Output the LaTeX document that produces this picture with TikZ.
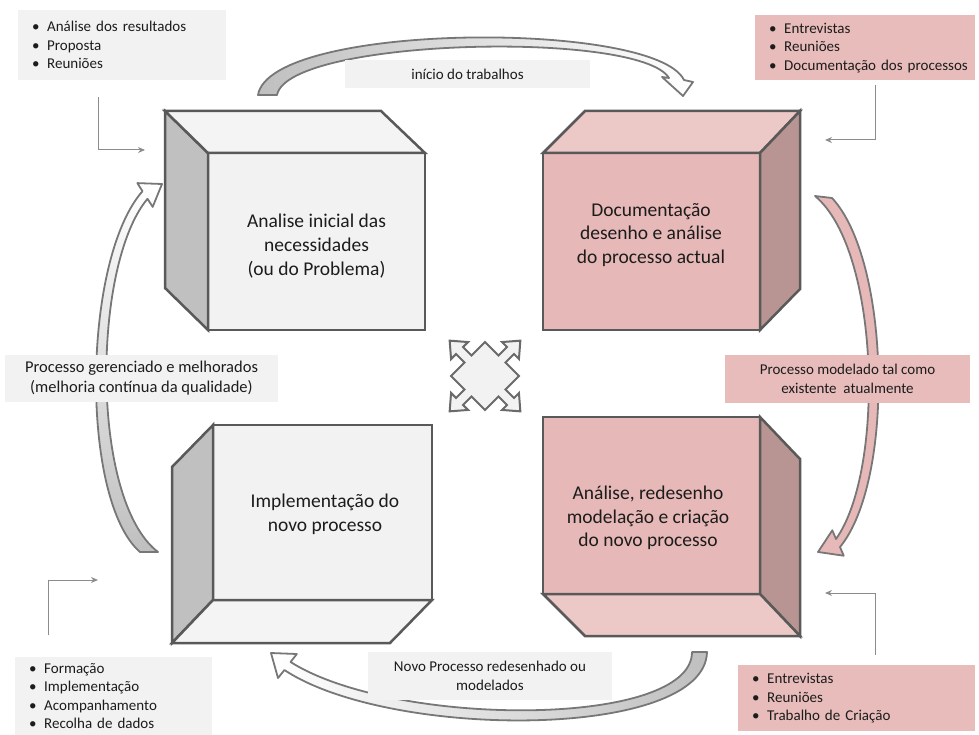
\documentclass[tikz,border=0pt]{standalone}
\usepackage{fontspec}
\setmainfont{Carlito}
\usetikzlibrary{arrows.meta}
\definecolor{edge}{HTML}{595959}
\definecolor{gfront}{HTML}{F2F2F2}
\definecolor{gtop}{HTML}{F4F4F4}
\definecolor{gside}{HTML}{C0C0C0}
\definecolor{pfront}{HTML}{E6B8B7}
\definecolor{plight}{HTML}{ECC8C7}
\definecolor{pdark}{HTML}{B89592}
\definecolor{callgray}{HTML}{F2F2F2}
\definecolor{callpink}{HTML}{E8BCBB}
\definecolor{conn}{HTML}{8C8C8C}
\definecolor{arrline}{HTML}{777777}
\definecolor{txt}{HTML}{1C1C1C}
\newcommand\bitem[1]{\hspace*{14pt}\makebox[15pt][l]{\textbullet}#1}
\begin{document}
\begin{tikzpicture}[x=1pt,y=-1pt,
 face/.style={draw=edge, line width=2.5pt, line join=miter},
 frontbox/.style={face, rectangle, inner sep=0pt, outer sep=0pt},
 boxtext/.style={align=center, text=txt, font=\fontsize{19.5}{23.7}\selectfont},
 callg/.style={fill=callgray, inner sep=0pt, align=left, text=txt, anchor=north west, font=\fontsize{15}{18.5}\selectfont},
 callp/.style={callg, fill=callpink},
 lblg/.style={fill=callgray, inner sep=0pt, align=center, text=txt, font=\fontsize{15}{19.5}\selectfont},
 lblp/.style={lblg, fill=callpink},
 connector/.style={draw=conn, line width=1pt, -{Stealth[length=7pt,width=6pt]}},
 curved/.style={draw=arrline, line width=1.8pt, line join=round},
 quad/.style={draw=edge!90, fill=gfront, line width=2pt, line join=miter},
]
\useasboundingbox (0,0) rectangle (979,735);

% curved block arrows
\draw[curved, left color=gray!50, right color=white]
  (258,95) .. controls (270,22) and (655,20) .. (684,80) -- (693,82) -- (683,96) -- (662,77) -- (669,78)
  .. controls (640,30) and (288,38) .. (277,95) -- cycle;
\draw[curved, fill=pfront]
  (832,198) .. controls (890,260) and (895,480) .. (840,547) -- (843.7,555.7) -- (818,552) -- (832.3,530.3) -- (836,539)
  .. controls (885,470) and (880,250) .. (815,196) -- cycle;
\draw[curved, left color=white, right color=gray!50]
  (707,652) .. controls (705,740) and (390,740) .. (284.4,670) -- (278,678) -- (271,653) -- (296.8,654) -- (290.6,662)
  .. controls (395,728) and (692,728) .. (692,652) -- cycle;
\draw[curved, top color=white, bottom color=gray!50]
  (142.5,191.2) .. controls (82,260) and (80,500) .. (140,552) -- (158,552)
  .. controls (90,500) and (92,265) .. (147.5,198.8) -- (152.7,206.9) -- (162,184) -- (137.3,183.1) -- cycle;

% center quad arrow
\begin{scope}[shift={(485,376)}, rotate=45]
\draw[quad] (24,-24) -- (24,-5) -- (36,-5) -- (36,-12) -- (50,0) -- (36,12) -- (36,5) -- (24,5)
 -- (24,24) -- (5,24) -- (5,36) -- (12,36) -- (0,50) -- (-12,36) -- (-5,36) -- (-5,24)
 -- (-24,24) -- (-24,5) -- (-36,5) -- (-36,12) -- (-50,0) -- (-36,-12) -- (-36,-5) -- (-24,-5)
 -- (-24,-24) -- (-5,-24) -- (-5,-36) -- (-12,-36) -- (0,-50) -- (12,-36) -- (5,-36) -- (5,-24) -- cycle;
\end{scope}

% Box 1
\node[frontbox, fill=gfront, minimum width=217pt, minimum height=177pt] (b1) at (316.5,241.5) {};
\draw[face, fill=gside] (b1.north west) -- ++(-43,-42) -- ++(0,177) -- (b1.south west) -- cycle;
\draw[face, fill=gtop] (b1.north west) -- ++(-43,-42) -- ++(216,0) -- (b1.north east) -- cycle;
% Box 2
\node[frontbox, fill=pfront, minimum width=217pt, minimum height=177pt] (b2) at (651.5,241.5) {};
\draw[face, fill=plight] (b2.north west) -- ++(42,-42) -- ++(215,0) -- (b2.north east) -- cycle;
\draw[face, fill=pdark] (b2.north east) -- ++(40,-42) -- ++(0,178) -- (b2.south east) -- cycle;
% Box 3
\node[frontbox, fill=pfront, minimum width=217pt, minimum height=177pt] (b3) at (651.5,505.5) {};
\draw[face, fill=pdark] (b3.north east) -- ++(40,42) -- ++(0,177) -- (b3.south east) -- cycle;
\draw[face, fill=plight] (b3.south west) -- (b3.south east) -- ++(40,42) -- ++(-215,0) -- cycle;
% Box 4
\node[frontbox, fill=gfront, minimum width=219pt, minimum height=175pt] (b4) at (322.5,512.5) {};
\draw[face, fill=gside] (b4.north west) -- ++(-41,42) -- ++(0,176) -- (b4.south west) -- cycle;
\draw[face, fill=gtop] (b4.south west) -- (b4.south east) -- ++(-42,43) -- ++(-218,0) -- cycle;

% box texts
\node[boxtext] (t1) at (316.5,246) {Analise inicial das\\necessidades\\(ou do Problema)};
\node[boxtext] (t2) at (651,235) {Documentação\\desenho e análise\\do processo actual};
\node[boxtext] (t3) at (648,518) {Análise, redesenho\\modelação e criação\\do novo processo};
\node[boxtext] (t4) at (325,514) {Implementação do\\novo processo};

% callouts
\node[callg, minimum height=70pt, text width=208pt] (n1) at (18,10)
  {\bitem{Análise dos resultados}\\\bitem{Proposta}\\\bitem{Reuniões}};
\node[callp, minimum height=65pt, text width=220pt] (n2) at (755,15)
  {\bitem{Entrevistas}\\\bitem{Reuniões}\\\bitem{Documentação dos processos}};
\node[callg, minimum height=78pt, text width=197pt] (n3) at (15,657)
  {\bitem{Formação}\\\bitem{Implementação}\\\bitem{Acompanhamento}\\\bitem{Recolha de dados}};
\node[callp, minimum height=66pt, text width=237pt] (n4) at (738,665)
  {\bitem{Entrevistas}\\\bitem{Reuniões}\\\bitem{Trabalho de Criação}};

% labels
\node[lblg, minimum width=245pt, minimum height=28pt] (l1) at (467.5,74) {início do trabalhos};
\node[lblg, minimum width=273pt, minimum height=47pt, font=\fontsize{16.5}{20}\selectfont] (l2) at (141.5,378.5) {Processo gerenciado e melhorados\\(melhoria contínua da qualidade)};
\node[lblp, minimum width=245pt, minimum height=48pt] (l3) at (847.5,379) {Processo modelado tal como\\existente\ \ atualmente};
\node[lblg, minimum width=244pt, minimum height=48pt] (l4) at (490,676) {Novo Processo redesenhado ou\\modelados};

% callout connectors
\coordinate (a1) at (98,97);   \coordinate (e1) at (145,150);
\coordinate (a2) at (875,85);  \coordinate (e2) at (825,140);
\coordinate (a3) at (48,635);  \coordinate (e3) at (98,580);
\coordinate (a4) at (875,655); \coordinate (e4) at (825,593);
\draw[connector] (a1) |- (e1);
\draw[connector] (a2) |- (e2);
\draw[connector] (a3) |- (e3);
\draw[connector] (a4) |- (e4);
\end{tikzpicture}
\end{document}
